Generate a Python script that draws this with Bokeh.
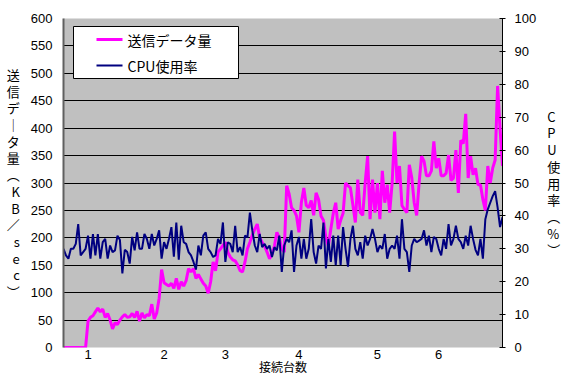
from bokeh.plotting import figure
from bokeh.models import (Range1d, LinearAxis, FixedTicker, Label, BoxAnnotation, ColumnDataSource)
from bokeh.embed import file_html
from bokeh.resources import INLINE

# 送信データ量 (KB/sec), left axis
send_kb = [
    0, 0, 0, 0, 0, 0, 0, 0, 0, 0,
    48, 55, 58, 65, 72, 65, 70, 55, 62, 50,
    34, 45, 42, 50, 56, 60, 55, 56, 62, 55,
    66, 48, 63, 54, 60, 58, 79, 52, 63, 90,
    142, 118, 115, 112, 117, 108, 126, 106, 120, 112,
    122, 144, 138, 144, 126, 133, 125, 117, 112, 99,
    120, 156, 140, 174, 180, 186, 192, 174, 165, 160,
    158, 151, 140, 138, 156, 180, 192, 205, 216, 225,
    200, 192, 185, 174, 162, 170, 185, 210, 200, 180,
    174, 295, 280, 255, 250, 240, 210, 265, 291, 259,
    255, 268, 241, 282, 270, 240, 232, 200, 185, 216,
    245, 264, 216, 232, 245, 300, 295, 291, 260, 228,
    306, 246, 241, 300, 349, 234, 306, 246, 300, 234,
    322, 264, 297, 246, 300, 394, 300, 331, 259, 252,
    246, 333, 310, 264, 241, 300, 349, 340, 313, 313,
    322, 376, 327, 345, 313, 313, 318, 351, 305, 309,
    360, 282, 378, 372, 426, 309, 349, 315, 327, 297,
    297, 270, 250, 331, 300, 327, 342, 477, 399, 331,
]

# CPU使用率 (%), right axis
cpu_pct = [
    30, 28, 27, 30, 30, 31.5, 37.5, 28, 29, 30,
    34, 27, 34.5, 28, 34.5, 27, 32, 33, 27, 31,
    29, 29.5, 34, 32.7, 22.5, 29.7, 29, 25.5, 33.6, 29.5,
    35, 30, 30, 34.5, 33, 30, 34.5, 31, 33, 35.6,
    27, 32, 30, 33, 36.6, 27.6, 38, 26.7, 37, 32,
    31.5, 29, 28, 26, 23.7, 31, 28, 34, 35, 30,
    29, 27.5, 28, 33, 31.5, 38, 26, 32, 31.5, 29,
    37, 29, 30.5, 28, 34, 33.5, 41, 35.5, 31, 29,
    34.5, 30.5, 31.5, 30, 31, 27.5, 30.5, 29.5, 34, 23,
    31, 33, 32, 35.6, 23, 31, 33.6, 27, 33, 27,
    30, 39, 29, 25.5, 31, 30, 38, 24, 33, 26,
    34, 25, 34, 25, 36.6, 30, 24.6, 33, 37, 30,
    28, 32, 27, 34, 31, 33, 36, 33, 29, 31,
    30, 34.5, 27, 30, 31, 30, 34, 27, 39, 30,
    29, 23, 31, 33, 32, 32.5, 33, 35.6, 31, 34,
    29, 33.6, 33, 30, 28, 33, 30, 37.5, 31, 33,
    37, 33, 32, 30, 34, 31, 37, 33, 29.7, 28,
    33, 27, 39, 42, 44, 46, 47.5, 42.6, 36.6, 39.6,
]

# 接続台数 labels and the sample index where each is shown
conn_labels = ["1", "2", "3", "4", "5", "6"]
conn_index = [10, 41, 66, 96, 128, 153]

left_ticks = [0, 50, 100, 150, 200, 250, 300, 350, 400, 450, 500, 550, 600]
right_ticks = [0, 10, 20, 30, 40, 50, 60, 70, 80, 90, 100]

series_names = ["送信データ量", "CPU使用率"]
left_title = ["送", "信", "デ", "｜", "タ", "量", "︵", "K", "B", "／", "s", "e", "c", "︶"]
right_title = ["C", "P", "U", "使", "用", "率", "︵", "%", "︶"]
x_title = "接続台数"

CJK = "Noto Sans CJK JP"
NUM = "Liberation Sans"
PINK = "#FF00FF"
NAVY = "#000080"

src = ColumnDataSource(dict(x=list(range(len(send_kb))), send=send_kb, cpu=cpu_pct))

p = figure(width=563, height=378, output_backend="svg", toolbar_location=None,
           x_range=Range1d(0, len(send_kb) - 1), y_range=Range1d(0, 600),
           min_border_left=63, min_border_right=53, min_border_top=18, min_border_bottom=31)
p.extra_y_ranges = {"cpu": Range1d(0, 100)}
p.background_fill_color = "#C0C0C0"
p.border_fill_color = "white"
p.outline_line_color = None
p.xgrid.visible = False
p.ygrid.ticker = FixedTicker(ticks=left_ticks)
p.ygrid.grid_line_color = "black"
p.ygrid.grid_line_width = 1

p.line("x", "send", source=src, line_color=PINK, line_width=3)
p.line("x", "cpu", source=src, line_color=NAVY, line_width=2, y_range_name="cpu")

xa = p.xaxis[0]
xa.ticker = FixedTicker(ticks=conn_index)
xa.major_label_overrides = {i: l for i, l in zip(conn_index, conn_labels)}
xa.major_tick_in = 0
xa.major_tick_out = 0
xa.minor_tick_in = 0
xa.minor_tick_out = 0
xa.axis_line_color = None
xa.major_label_standoff = 2
xa.major_label_text_font = NUM
xa.major_label_text_font_size = "13px"
xa.major_label_text_color = "black"
xa.axis_label = x_title
xa.axis_label_standoff = -4
xa.axis_label_text_align = "left"
xa.axis_label_text_font = CJK
xa.axis_label_text_font_size = "12px"
xa.axis_label_text_font_style = "normal"
xa.axis_label_text_color = "black"

ya = p.yaxis[0]
ya.ticker = FixedTicker(ticks=left_ticks)
ya.major_tick_in = 0
ya.major_tick_out = 0
ya.minor_tick_in = 0
ya.minor_tick_out = 0
ya.axis_line_color = "#606060"
ya.axis_line_width = 2
ya.major_label_standoff = 11
ya.major_label_text_font = NUM
ya.major_label_text_font_size = "13px"
ya.major_label_text_color = "black"
ya.axis_label = "\n".join(left_title)
ya.axis_label_orientation = "horizontal"
ya.axis_label_standoff = 8
ya.axis_label_text_align = "center"
ya.axis_label_text_font = CJK
ya.axis_label_text_font_size = "13px"
ya.axis_label_text_font_style = "normal"
ya.axis_label_text_line_height = 0.88
ya.axis_label_text_color = "black"

ra = LinearAxis(y_range_name="cpu", ticker=FixedTicker(ticks=right_ticks))
ra.major_tick_in = 3
ra.major_tick_out = 3
ra.minor_tick_in = 0
ra.minor_tick_out = 0
ra.axis_line_color = "black"
ra.major_tick_line_color = "black"
ra.major_label_standoff = 9
ra.major_label_text_font = NUM
ra.major_label_text_font_size = "13px"
ra.major_label_text_color = "black"
ra.axis_label = "\n".join(right_title)
ra.axis_label_orientation = "horizontal"
ra.axis_label_standoff = 8
ra.axis_label_text_align = "center"
ra.axis_label_text_font = CJK
ra.axis_label_text_font_size = "13px"
ra.axis_label_text_font_style = "normal"
ra.axis_label_text_line_height = 0.88
ra.axis_label_text_color = "black"
p.add_layout(ra, "right")

# legend box (screen units relative to the plot frame)
p.add_layout(BoxAnnotation(left=10, right=175, top=321, bottom=269,
                           left_units="screen", right_units="screen",
                           top_units="screen", bottom_units="screen",
                           fill_color="white", fill_alpha=1.0,
                           line_color="black", line_width=1, line_alpha=1.0))
p.add_layout(BoxAnnotation(left=33, right=59, top=309.5, bottom=306.5,
                           left_units="screen", right_units="screen",
                           top_units="screen", bottom_units="screen",
                           fill_color=PINK, fill_alpha=1.0, line_color=None))
p.add_layout(BoxAnnotation(left=33, right=59, top=283, bottom=281,
                           left_units="screen", right_units="screen",
                           top_units="screen", bottom_units="screen",
                           fill_color=NAVY, fill_alpha=1.0, line_color=None))
p.add_layout(Label(x=64, y=308, x_units="screen", y_units="screen",
                   text=series_names[0], text_baseline="middle",
                   text_font=CJK, text_font_size="14px", text_color="black"))
p.add_layout(Label(x=64, y=282, x_units="screen", y_units="screen",
                   text=series_names[1], text_baseline="middle",
                   text_font=CJK, text_font_size="14px", text_color="black"))

open("out.html", "w").write(file_html(p, INLINE))
